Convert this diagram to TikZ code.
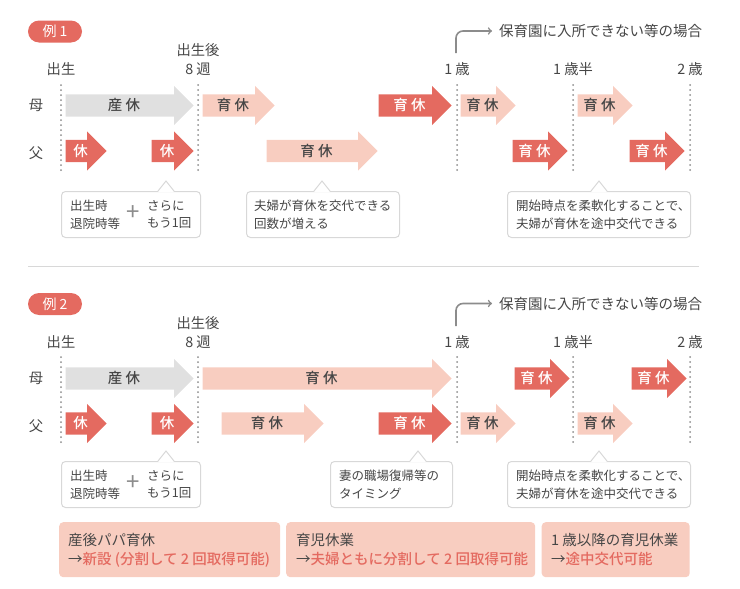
\documentclass[tikz,border=0pt]{standalone}
\usepackage{fontspec}
\setmainfont{Noto Sans CJK JP}
\newfontfamily\mediumfont{Noto Sans CJK JP Medium}
\usetikzlibrary{shapes,arrows,positioning,calc}
\definecolor{leavered}{RGB}{228,106,96}
\definecolor{leavepink}{RGB}{248,205,192}
\definecolor{leavegray}{RGB}{224,224,224}
\definecolor{inkgray}{RGB}{70,70,70}
\definecolor{linegray}{RGB}{216,216,216}
\definecolor{dotgray}{RGB}{140,140,140}
\tikzset{
  leave/.style={single arrow, single arrow head extend=8.5pt, single arrow head indent=0pt, anchor=tip, inner sep=0pt, text height=16pt, text depth=6pt, font=\fontsize{14.5}{16}\mediumfont},
  redleave/.style={leave, fill=leavered, text=white},
  pinkleave/.style={leave, fill=leavepink, text=inkgray},
  grayleave/.style={leave, fill=leavegray, text=inkgray},
  timelabel/.style={text=inkgray, inner sep=0pt, align=center, font=\fontsize{14.3}{19}\selectfont},
  caselabel/.style={timelabel, anchor=west, font=\fontsize{14.5}{19}\selectfont},
  pluslabel/.style={text=dotgray, inner sep=0pt, font=\fontsize{24}{24}\selectfont},
  tag/.style={fill=leavered, text=white, rounded corners=11pt, minimum width=54pt, minimum height=22pt, inner sep=0pt, font=\fontsize{14}{16}\selectfont},
  notebox/.style={draw=linegray, line width=1pt, fill=white, rounded corners=4pt, anchor=north west, minimum height=46pt},
  notetext/.style={text=inkgray, inner sep=0pt, anchor=north west, align=left, font=\fontsize{12.5}{17.5}\selectfont},
  summary/.style={fill=leavepink, rounded corners=4pt, anchor=north west, minimum height=55pt},
  summarytext/.style={text=inkgray, inner sep=0pt, anchor=north west, align=left, font=\fontsize{14.5}{19}\selectfont},
  timeline/.style={dotgray, line width=2pt, line cap=round, dash pattern=on 0pt off 5pt},
  bendline/.style={->, dotgray, line width=1.6pt, rounded corners=7pt},
}
\newcommand{\notetip}[2]{\fill[white] (#1-8,#2+11) -- (#1,#2) -- (#1+8,#2+11) -- cycle;
  \draw[linegray, line width=1pt] (#1-8,#2+10) -- (#1,#2) -- (#1+8,#2+10);}
\newcommand{\redtext}[1]{\textcolor{leavered}{\mediumfont #1}}
\begin{document}
\begin{tikzpicture}[x=1pt,y=-1pt]
    \useasboundingbox (0,0) rectangle (740,589);
    % example 1
    \node[tag] (tagA) at (55,31.5) {例 1};
    \node[timelabel] (birthA) at (61,69) {出生};
    \node[timelabel] (weeksA) at (198,59.5) {出生後\\8 週};
    \node[timelabel] (oneA) at (457,69) {1 歳};
    \node[timelabel] (halfA) at (573,69) {1 歳半};
    \node[timelabel] (twoA) at (690,69) {2 歳};
    \node[caselabel] (caseA) at (499,31) {保育園に入所できない等の場合};
    \coordinate (bendA) at (456,53);
    \draw[bendline] (bendA) |- ([xshift=-7pt]caseA.west);
    \node[timelabel] (motherA) at (36,105.5) {母};
    \node[timelabel] (fatherA) at (36,153) {父};
    \foreach \x in {61,198,457,573,690}
        \draw[timeline] (\x,85) -- (\x,172);
    \node[grayleave, minimum height=128pt] (a1) at (194,105.5) {産 休};
    \node[pinkleave, minimum height=72pt] (a2) at (275,105.5) {育 休};
    \node[redleave, minimum height=73pt] (a3) at (452,105.5) {育 休};
    \node[pinkleave, minimum height=55pt] (a4) at (516,105.5) {育 休};
    \node[pinkleave, minimum height=55pt] (a5) at (633,105.5) {育 休};
    \node[redleave, minimum height=41pt] (a6) at (107,151) {休};
    \node[redleave, minimum height=42pt] (a7) at (194,151) {休};
    \node[pinkleave, minimum height=111pt] (a8) at (378,151) {育 休};
    \node[redleave, minimum height=55pt] (a9) at (568,151) {育 休};
    \node[redleave, minimum height=55pt] (a10) at (685,151) {育 休};
    % notes of example 1
    \node[notebox, minimum width=139pt] (noteA1) at (61,191) {};
    \node[notebox, minimum width=153pt] (noteA2) at (246,191) {};
    \node[notebox, minimum width=183pt] (noteA3) at (507,191) {};
    \notetip{166}{181}
    \notetip{322}{181}
    \notetip{599}{181}
    \node[notetext] (textA1) at (70,200) {出生時\\退院時等};
    \node[pluslabel] (plusA) at (133.5,213) {+};
    \node[notetext] (moreA) at (147,200) {さらに\\もう1回};
    \node[notetext] (textA2) at (254,200) {夫婦が育休を交代できる\\回数が増える};
    \node[notetext] (textA3) at (516,200) {開始時点を柔軟化することで、\\夫婦が育休を途中交代できる};
    \draw[linegray, line width=1pt] (28,266) -- (699,266);
    % example 2
    \node[tag] (tagB) at (55,304) {例 2};
    \node[timelabel] (birthB) at (61,342) {出生};
    \node[timelabel] (weeksB) at (198,332.5) {出生後\\8 週};
    \node[timelabel] (oneB) at (457,342) {1 歳};
    \node[timelabel] (halfB) at (573,342) {1 歳半};
    \node[timelabel] (twoB) at (690,342) {2 歳};
    \node[caselabel] (caseB) at (499,303.5) {保育園に入所できない等の場合};
    \coordinate (bendB) at (456,326);
    \draw[bendline] (bendB) |- ([xshift=-7pt]caseB.west);
    \node[timelabel] (motherB) at (36,378.5) {母};
    \node[timelabel] (fatherB) at (36,426) {父};
    \foreach \x in {61,198,457,573,690}
        \draw[timeline] (\x,357) -- (\x,444);
    \node[grayleave, minimum height=128pt] (b1) at (194,378.5) {産 休};
    \node[pinkleave, minimum height=249pt] (b2) at (452,378.5) {育 休};
    \node[redleave, minimum height=55pt] (b3) at (570,378.5) {育 休};
    \node[redleave, minimum height=55pt] (b4) at (687,378.5) {育 休};
    \node[redleave, minimum height=41pt] (b5) at (107,423.5) {休};
    \node[redleave, minimum height=42pt] (b6) at (194,423.5) {休};
    \node[pinkleave, minimum height=102pt] (b7) at (324,423.5) {育 休};
    \node[redleave, minimum height=73pt] (b8) at (452,423.5) {育 休};
    \node[pinkleave, minimum height=55pt] (b9) at (516,423.5) {育 休};
    \node[pinkleave, minimum height=55pt] (b10) at (633,423.5) {育 休};
    % notes of example 2
    \node[notebox, minimum width=139pt] (noteB1) at (61,461) {};
    \node[notebox, minimum width=122pt] (noteB2) at (330,461) {};
    \node[notebox, minimum width=183pt] (noteB3) at (507,461) {};
    \notetip{166}{451}
    \notetip{418}{451}
    \notetip{599}{451}
    \node[notetext] (textB1) at (70,470) {出生時\\退院時等};
    \node[pluslabel] (plusB) at (133.5,483) {+};
    \node[notetext] (moreB) at (147,470) {さらに\\もう1回};
    \node[notetext] (textB2) at (339,470) {妻の職場復帰等の\\タイミング};
    \node[notetext] (textB3) at (516,470) {開始時点を柔軟化することで、\\夫婦が育休を途中交代できる};
    % summaries
    \node[summary, minimum width=221pt] (sumA) at (59,522) {};
    \node[summary, minimum width=249pt] (sumB) at (286,522) {};
    \node[summary, minimum width=148pt] (sumC) at (541.5,522) {};
    \node[summarytext] (sumtextA) at (68,533) {産後パパ育休\\→\redtext{新設 (分割して 2 回取得可能)}};
    \node[summarytext] (sumtextB) at (296,533) {育児休業\\→\redtext{夫婦ともに分割して 2 回取得可能}};
    \node[summarytext] (sumtextC) at (551,533) {1 歳以降の育児休業\\→\redtext{途中交代可能}};
\end{tikzpicture}
\end{document}
